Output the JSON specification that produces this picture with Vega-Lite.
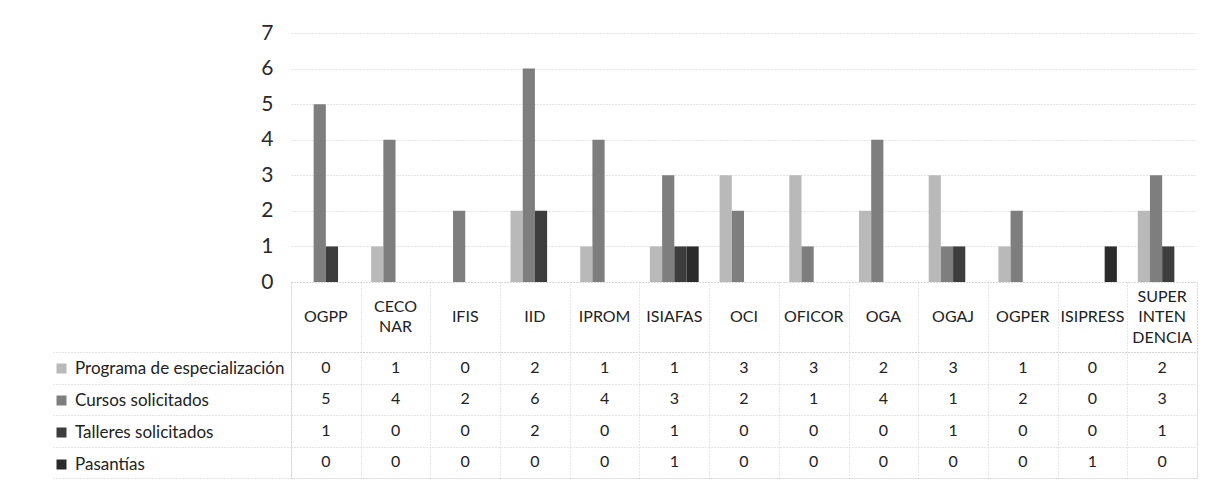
{
  "$schema": "https://vega.github.io/schema/vega-lite/v6.json",
  "background": "white",
  "padding": {"left": 50, "top": 22, "right": 26, "bottom": 9},
  "config": {
    "font": "Lato",
    "view": {"stroke": null},
    "axis": {"gridColor": "#cdcdcd", "gridDash": [1, 2], "tickColor": "#cdcdcd", "tickDash": [1, 2], "domainColor": "#cdcdcd", "domainDash": [1, 2]}
  },
  "datasets": {
    "solicitudes": [
      {"unidad": "OGPP", "serie": "Programa de especialización", "valor": 0},
      {"unidad": "OGPP", "serie": "Cursos solicitados", "valor": 5},
      {"unidad": "OGPP", "serie": "Talleres solicitados", "valor": 1},
      {"unidad": "OGPP", "serie": "Pasantías", "valor": 0},
      {"unidad": "CECONAR", "serie": "Programa de especialización", "valor": 1},
      {"unidad": "CECONAR", "serie": "Cursos solicitados", "valor": 4},
      {"unidad": "CECONAR", "serie": "Talleres solicitados", "valor": 0},
      {"unidad": "CECONAR", "serie": "Pasantías", "valor": 0},
      {"unidad": "IFIS", "serie": "Programa de especialización", "valor": 0},
      {"unidad": "IFIS", "serie": "Cursos solicitados", "valor": 2},
      {"unidad": "IFIS", "serie": "Talleres solicitados", "valor": 0},
      {"unidad": "IFIS", "serie": "Pasantías", "valor": 0},
      {"unidad": "IID", "serie": "Programa de especialización", "valor": 2},
      {"unidad": "IID", "serie": "Cursos solicitados", "valor": 6},
      {"unidad": "IID", "serie": "Talleres solicitados", "valor": 2},
      {"unidad": "IID", "serie": "Pasantías", "valor": 0},
      {"unidad": "IPROM", "serie": "Programa de especialización", "valor": 1},
      {"unidad": "IPROM", "serie": "Cursos solicitados", "valor": 4},
      {"unidad": "IPROM", "serie": "Talleres solicitados", "valor": 0},
      {"unidad": "IPROM", "serie": "Pasantías", "valor": 0},
      {"unidad": "ISIAFAS", "serie": "Programa de especialización", "valor": 1},
      {"unidad": "ISIAFAS", "serie": "Cursos solicitados", "valor": 3},
      {"unidad": "ISIAFAS", "serie": "Talleres solicitados", "valor": 1},
      {"unidad": "ISIAFAS", "serie": "Pasantías", "valor": 1},
      {"unidad": "OCI", "serie": "Programa de especialización", "valor": 3},
      {"unidad": "OCI", "serie": "Cursos solicitados", "valor": 2},
      {"unidad": "OCI", "serie": "Talleres solicitados", "valor": 0},
      {"unidad": "OCI", "serie": "Pasantías", "valor": 0},
      {"unidad": "OFICOR", "serie": "Programa de especialización", "valor": 3},
      {"unidad": "OFICOR", "serie": "Cursos solicitados", "valor": 1},
      {"unidad": "OFICOR", "serie": "Talleres solicitados", "valor": 0},
      {"unidad": "OFICOR", "serie": "Pasantías", "valor": 0},
      {"unidad": "OGA", "serie": "Programa de especialización", "valor": 2},
      {"unidad": "OGA", "serie": "Cursos solicitados", "valor": 4},
      {"unidad": "OGA", "serie": "Talleres solicitados", "valor": 0},
      {"unidad": "OGA", "serie": "Pasantías", "valor": 0},
      {"unidad": "OGAJ", "serie": "Programa de especialización", "valor": 3},
      {"unidad": "OGAJ", "serie": "Cursos solicitados", "valor": 1},
      {"unidad": "OGAJ", "serie": "Talleres solicitados", "valor": 1},
      {"unidad": "OGAJ", "serie": "Pasantías", "valor": 0},
      {"unidad": "OGPER", "serie": "Programa de especialización", "valor": 1},
      {"unidad": "OGPER", "serie": "Cursos solicitados", "valor": 2},
      {"unidad": "OGPER", "serie": "Talleres solicitados", "valor": 0},
      {"unidad": "OGPER", "serie": "Pasantías", "valor": 0},
      {"unidad": "ISIPRESS", "serie": "Programa de especialización", "valor": 0},
      {"unidad": "ISIPRESS", "serie": "Cursos solicitados", "valor": 0},
      {"unidad": "ISIPRESS", "serie": "Talleres solicitados", "valor": 0},
      {"unidad": "ISIPRESS", "serie": "Pasantías", "valor": 1},
      {"unidad": "SUPERINTENDENCIA", "serie": "Programa de especialización", "valor": 2},
      {"unidad": "SUPERINTENDENCIA", "serie": "Cursos solicitados", "valor": 3},
      {"unidad": "SUPERINTENDENCIA", "serie": "Talleres solicitados", "valor": 1},
      {"unidad": "SUPERINTENDENCIA", "serie": "Pasantías", "valor": 0}
    ],
    "unidades": [
      {"unidad": "OGPP", "rotulo": "OGPP"},
      {"unidad": "CECONAR", "rotulo": "CECO\nNAR"},
      {"unidad": "IFIS", "rotulo": "IFIS"},
      {"unidad": "IID", "rotulo": "IID"},
      {"unidad": "IPROM", "rotulo": "IPROM"},
      {"unidad": "ISIAFAS", "rotulo": "ISIAFAS"},
      {"unidad": "OCI", "rotulo": "OCI"},
      {"unidad": "OFICOR", "rotulo": "OFICOR"},
      {"unidad": "OGA", "rotulo": "OGA"},
      {"unidad": "OGAJ", "rotulo": "OGAJ"},
      {"unidad": "OGPER", "rotulo": "OGPER"},
      {"unidad": "ISIPRESS", "rotulo": "ISIPRESS"},
      {"unidad": "SUPERINTENDENCIA", "rotulo": "SUPER\nINTEN\nDENCIA"}
    ]
  },
  "bounds": "flush",
  "spacing": 0,
  "resolve": {
    "scale": {"x": "independent", "color": "shared"},
    "legend": {"color": "independent"}
  },
  "vconcat": [
    {
      "width": 906,
      "height": 249,
      "data": {"name": "solicitudes"},
      "mark": {"type": "bar"},
      "encoding": {
        "x": {
          "field": "unidad", "type": "nominal",
          "sort": ["OGPP", "CECONAR", "IFIS", "IID", "IPROM", "ISIAFAS", "OCI", "OFICOR", "OGA", "OGAJ", "OGPER", "ISIPRESS", "SUPERINTENDENCIA"],
          "scale": {"paddingInner": 0.3, "paddingOuter": 0.15},
          "axis": null
        },
        "xOffset": {
          "field": "serie", "type": "nominal",
          "sort": ["Programa de especialización", "Cursos solicitados", "Talleres solicitados", "Pasantías"],
          "scale": {"paddingInner": 0, "paddingOuter": 0}
        },
        "y": {
          "field": "valor", "type": "quantitative",
          "scale": {"domain": [0, 7], "nice": false},
          "axis": {
            "title": null, "values": [0, 1, 2, 3, 4, 5, 6, 7],
            "domain": false, "ticks": false,
            "labelFontSize": 21, "labelPadding": 18, "labelColor": "#2a2a2a"
          }
        },
        "color": {
          "field": "serie", "type": "nominal",
          "scale": {
            "domain": ["Programa de especialización", "Cursos solicitados", "Talleres solicitados", "Pasantías"],
            "range": ["#b9b9b9", "#7e7e7e", "#3d3d3d", "#2b2b2b"]
          },
          "legend": null
        }
      }
    },
    {
      "width": 906,
      "height": 70,
      "view": {"stroke": "#cdcdcd", "strokeDash": [1, 2]},
      "data": {"name": "unidades"},
      "mark": {
        "type": "text", "fontSize": 16, "lineBreak": "\n", "lineHeight": 20.5, "color": "#222222",
        "dy": {"expr": "-10.25 * (length(split(datum.rotulo, '\\n')) - 1)"}
      },
      "encoding": {
        "x": {
          "field": "unidad", "type": "nominal",
          "sort": ["OGPP", "CECONAR", "IFIS", "IID", "IPROM", "ISIAFAS", "OCI", "OFICOR", "OGA", "OGAJ", "OGPER", "ISIPRESS", "SUPERINTENDENCIA"],
          "scale": {"padding": 0},
          "axis": {"title": null, "labels": false, "ticks": false, "domain": false, "grid": true, "tickBand": "extent"}
        },
        "text": {"field": "rotulo", "type": "nominal"}
      }
    },
    {
      "width": 906,
      "height": 126,
      "view": {"stroke": "#cdcdcd", "strokeDash": [1, 2]},
      "data": {"name": "solicitudes"},
      "encoding": {
        "x": {
          "field": "unidad", "type": "nominal",
          "sort": ["OGPP", "CECONAR", "IFIS", "IID", "IPROM", "ISIAFAS", "OCI", "OFICOR", "OGA", "OGAJ", "OGPER", "ISIPRESS", "SUPERINTENDENCIA"],
          "scale": {"padding": 0},
          "axis": {"title": null, "labels": false, "ticks": false, "domain": false, "grid": true, "tickBand": "extent"}
        }
      },
      "layer": [
        {
          "mark": {"type": "text", "fontSize": 16, "color": "#222222"},
          "encoding": {
            "y": {
              "field": "serie", "type": "nominal",
              "sort": ["Programa de especialización", "Cursos solicitados", "Talleres solicitados", "Pasantías"],
              "scale": {"padding": 0},
              "axis": {"title": null, "orient": "left", "labels": false, "domain": false, "ticks": true, "tickSize": 240, "grid": true, "tickBand": "extent"}
            },
            "text": {"field": "valor", "type": "quantitative"}
          }
        },
        {
          "mark": {"type": "point", "shape": "square", "filled": true, "opacity": 0},
          "encoding": {
            "y": {
              "field": "serie", "type": "nominal",
              "sort": ["Programa de especialización", "Cursos solicitados", "Talleres solicitados", "Pasantías"],
              "scale": {"padding": 0},
              "axis": {"title": null, "orient": "left", "labels": false, "domain": true, "ticks": false, "grid": false, "offset": 0}
            },
            "color": {
              "field": "serie", "type": "nominal",
              "legend": {
                "title": null, "orient": "none", "legendX": -238, "legendY": 8,
                "symbolType": "square", "symbolSize": 100, "symbolOpacity": 1, "symbolStrokeWidth": 0,
                "labelFontSize": 17, "labelColor": "#222222", "labelLimit": 300,
                "labelOffset": 5, "rowPadding": 14, "padding": 0
              }
            }
          }
        }
      ],
      "resolve": {"axis": {"y": "independent"}}
    }
  ]
}
